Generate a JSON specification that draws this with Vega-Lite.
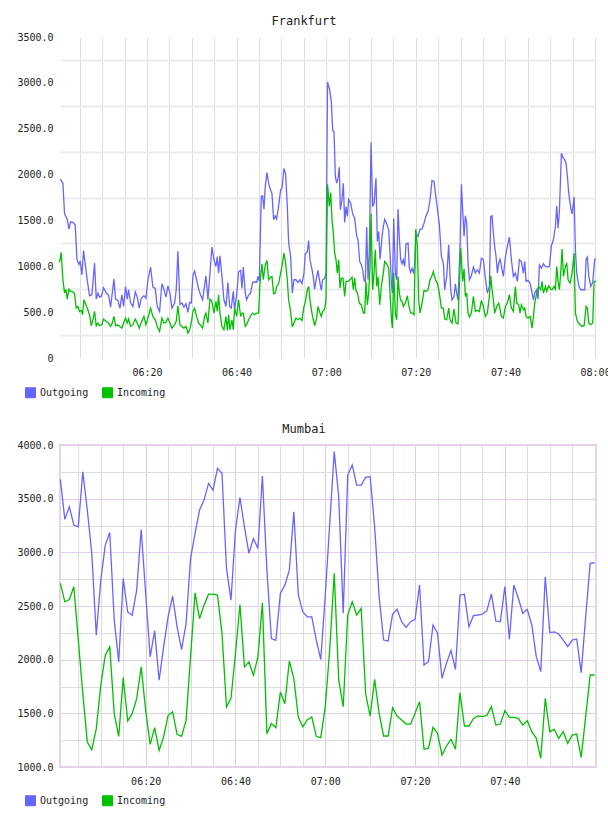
{
  "$schema": "https://vega.github.io/schema/vega-lite/v6.json",
  "background": "white",
  "padding": {"left": 15, "top": 15, "right": 0, "bottom": 0},
  "spacing": 22,
  "resolve": {"scale": {"x": "independent", "y": "independent", "color": "independent"}, "legend": {"color": "independent"}, "axis": {"x": "independent", "y": "independent"}},
  "datasets": {
    "fo": [{"t":0.65,"v":1950},{"t":1.25,"v":1906},{"t":1.62,"v":1572},{"t":2.21,"v":1514},{"t":2.59,"v":1405},{"t":2.96,"v":1485},{"t":3.48,"v":1478},{"t":4.0,"v":1449},{"t":4.37,"v":1078},{"t":4.82,"v":1020},{"t":5.11,"v":1056},{"t":5.49,"v":907},{"t":5.86,"v":1172},{"t":6.23,"v":1027},{"t":6.68,"v":846},{"t":7.2,"v":679},{"t":7.72,"v":690},{"t":8.31,"v":1035},{"t":8.69,"v":642},{"t":9.06,"v":708},{"t":9.43,"v":664},{"t":9.8,"v":671},{"t":10.32,"v":766},{"t":10.92,"v":708},{"t":11.44,"v":686},{"t":11.89,"v":555},{"t":12.26,"v":708},{"t":12.63,"v":860},{"t":13.0,"v":642},{"t":13.52,"v":628},{"t":13.97,"v":541},{"t":14.41,"v":690},{"t":14.79,"v":562},{"t":15.23,"v":780},{"t":15.61,"v":642},{"t":15.9,"v":744},{"t":16.35,"v":599},{"t":16.87,"v":562},{"t":17.39,"v":722},{"t":17.84,"v":664},{"t":18.28,"v":544},{"t":18.73,"v":650},{"t":19.33,"v":679},{"t":19.77,"v":650},{"t":20.22,"v":853},{"t":20.81,"v":991},{"t":21.33,"v":773},{"t":21.85,"v":758},{"t":22.3,"v":562},{"t":22.82,"v":508},{"t":23.34,"v":809},{"t":23.79,"v":751},{"t":24.24,"v":664},{"t":24.68,"v":787},{"t":25.13,"v":708},{"t":25.57,"v":544},{"t":26.17,"v":599},{"t":26.54,"v":744},{"t":26.91,"v":1165},{"t":27.36,"v":584},{"t":27.81,"v":599},{"t":28.25,"v":555},{"t":28.7,"v":591},{"t":29.15,"v":497},{"t":29.52,"v":606},{"t":29.89,"v":599},{"t":30.26,"v":896},{"t":30.63,"v":947},{"t":31.08,"v":853},{"t":31.53,"v":751},{"t":31.97,"v":686},{"t":32.42,"v":635},{"t":32.87,"v":795},{"t":33.16,"v":896},{"t":33.61,"v":635},{"t":34.06,"v":926},{"t":34.5,"v":1209},{"t":34.95,"v":1071},{"t":35.4,"v":998},{"t":35.69,"v":1107},{"t":35.99,"v":926},{"t":36.29,"v":1115},{"t":36.73,"v":896},{"t":37.18,"v":635},{"t":37.63,"v":562},{"t":38.07,"v":824},{"t":38.45,"v":562},{"t":38.82,"v":544},{"t":39.26,"v":726},{"t":39.56,"v":526},{"t":40.01,"v":686},{"t":40.45,"v":940},{"t":40.9,"v":955},{"t":41.2,"v":758},{"t":41.5,"v":991},{"t":41.94,"v":708},{"t":42.24,"v":635},{"t":42.69,"v":686},{"t":43.13,"v":708},{"t":43.58,"v":824},{"t":44.03,"v":831},{"t":44.47,"v":824},{"t":44.77,"v":889},{"t":45.07,"v":835},{"t":45.51,"v":1761},{"t":45.81,"v":1768},{"t":46.11,"v":1623},{"t":46.41,"v":1877},{"t":46.78,"v":2022},{"t":47.15,"v":1906},{"t":47.6,"v":1826},{"t":47.89,"v":1797},{"t":48.27,"v":1507},{"t":48.64,"v":1550},{"t":48.94,"v":1514},{"t":49.38,"v":1659},{"t":49.83,"v":1834},{"t":50.13,"v":1848},{"t":50.57,"v":2066},{"t":50.95,"v":2001},{"t":51.32,"v":1652},{"t":51.61,"v":1260},{"t":52.06,"v":1107},{"t":52.43,"v":708},{"t":52.8,"v":853},{"t":53.25,"v":853},{"t":53.7,"v":824},{"t":54.14,"v":853},{"t":54.59,"v":809},{"t":55.04,"v":926},{"t":55.33,"v":1136},{"t":55.78,"v":1158},{"t":56.08,"v":1281},{"t":56.38,"v":1071},{"t":56.82,"v":969},{"t":57.12,"v":882},{"t":57.42,"v":751},{"t":57.86,"v":882},{"t":58.16,"v":955},{"t":58.61,"v":817},{"t":58.91,"v":737},{"t":59.2,"v":853},{"t":59.65,"v":867},{"t":59.95,"v":926},{"t":60.3,"v":3010},{"t":60.77,"v":2923},{"t":61.14,"v":2796},{"t":61.44,"v":2480},{"t":61.74,"v":2469},{"t":62.04,"v":1979},{"t":62.33,"v":1906},{"t":62.63,"v":1961},{"t":62.93,"v":2081},{"t":63.15,"v":1616},{"t":63.52,"v":1725},{"t":63.82,"v":1906},{"t":64.12,"v":1478},{"t":64.42,"v":1652},{"t":64.72,"v":1543},{"t":65.01,"v":1732},{"t":65.46,"v":1688},{"t":65.91,"v":1572},{"t":66.35,"v":1525},{"t":66.8,"v":1332},{"t":67.1,"v":1289},{"t":67.47,"v":1053},{"t":67.84,"v":1016},{"t":68.14,"v":962},{"t":68.44,"v":846},{"t":68.73,"v":835},{"t":69.03,"v":1427},{"t":69.33,"v":853},{"t":69.63,"v":1180},{"t":70.0,"v":2349},{"t":70.37,"v":1652},{"t":70.67,"v":1681},{"t":71.11,"v":1961},{"t":71.41,"v":1271},{"t":71.71,"v":1380},{"t":72.01,"v":1078},{"t":72.45,"v":1318},{"t":72.75,"v":1434},{"t":73.05,"v":1514},{"t":73.49,"v":1463},{"t":73.94,"v":1398},{"t":74.24,"v":1143},{"t":74.54,"v":809},{"t":74.76,"v":708},{"t":75.06,"v":1521},{"t":75.43,"v":926},{"t":75.73,"v":853},{"t":76.02,"v":1623},{"t":76.32,"v":1307},{"t":76.62,"v":1071},{"t":76.92,"v":1027},{"t":77.21,"v":1071},{"t":77.51,"v":998},{"t":77.81,"v":1245},{"t":78.26,"v":1252},{"t":78.55,"v":980},{"t":78.85,"v":933},{"t":79.15,"v":980},{"t":79.45,"v":933},{"t":79.74,"v":998},{"t":80.04,"v":1361},{"t":80.49,"v":1325},{"t":80.93,"v":1405},{"t":81.38,"v":1405},{"t":81.83,"v":1470},{"t":82.27,"v":1550},{"t":82.72,"v":1597},{"t":83.17,"v":1725},{"t":83.61,"v":1935},{"t":84.06,"v":1924},{"t":84.36,"v":1797},{"t":84.8,"v":1634},{"t":85.25,"v":1452},{"t":85.7,"v":1107},{"t":86.14,"v":1035},{"t":86.44,"v":744},{"t":86.89,"v":889},{"t":87.33,"v":1234},{"t":87.78,"v":744},{"t":88.08,"v":635},{"t":88.52,"v":671},{"t":88.82,"v":809},{"t":89.12,"v":708},{"t":89.42,"v":628},{"t":89.86,"v":1216},{"t":90.16,"v":1895},{"t":90.46,"v":1608},{"t":90.76,"v":1325},{"t":91.05,"v":1550},{"t":91.35,"v":1470},{"t":91.65,"v":1035},{"t":91.95,"v":853},{"t":92.39,"v":896},{"t":92.84,"v":991},{"t":93.28,"v":926},{"t":93.73,"v":962},{"t":94.18,"v":926},{"t":94.62,"v":1089},{"t":95.07,"v":1071},{"t":95.52,"v":871},{"t":95.96,"v":708},{"t":96.41,"v":780},{"t":96.71,"v":1543},{"t":97.0,"v":1550},{"t":97.3,"v":1361},{"t":97.6,"v":1209},{"t":97.9,"v":1107},{"t":98.2,"v":926},{"t":98.49,"v":1035},{"t":98.79,"v":1078},{"t":99.09,"v":1005},{"t":99.53,"v":889},{"t":99.98,"v":1100},{"t":100.43,"v":1216},{"t":100.87,"v":1318},{"t":101.32,"v":1071},{"t":101.77,"v":889},{"t":102.21,"v":926},{"t":102.66,"v":835},{"t":103.11,"v":1071},{"t":103.55,"v":1049},{"t":104.0,"v":926},{"t":104.3,"v":1053},{"t":104.59,"v":835},{"t":105.04,"v":846},{"t":105.49,"v":817},{"t":105.93,"v":708},{"t":106.23,"v":635},{"t":106.53,"v":708},{"t":106.97,"v":744},{"t":107.27,"v":642},{"t":107.57,"v":1016},{"t":108.02,"v":980},{"t":108.46,"v":1027},{"t":108.91,"v":998},{"t":109.36,"v":991},{"t":109.8,"v":998},{"t":110.25,"v":1223},{"t":110.69,"v":1289},{"t":111.14,"v":1434},{"t":111.44,"v":1659},{"t":111.74,"v":1416},{"t":112.03,"v":1597},{"t":112.48,"v":2233},{"t":112.78,"v":2190},{"t":113.22,"v":2160},{"t":113.52,"v":2124},{"t":113.82,"v":1979},{"t":114.12,"v":1797},{"t":114.56,"v":1634},{"t":114.86,"v":1572},{"t":115.31,"v":1754},{"t":115.6,"v":1180},{"t":115.9,"v":926},{"t":116.35,"v":787},{"t":116.8,"v":744},{"t":117.24,"v":744},{"t":117.69,"v":744},{"t":117.99,"v":1078},{"t":118.28,"v":1100},{"t":118.58,"v":896},{"t":119.03,"v":780},{"t":119.47,"v":824},{"t":119.92,"v":1078},{"t":120.22,"v":1078}],
    "fi": [{"t":0.5,"v":1042},{"t":0.87,"v":1151},{"t":1.25,"v":853},{"t":1.62,"v":708},{"t":1.92,"v":751},{"t":2.21,"v":642},{"t":2.59,"v":751},{"t":2.96,"v":726},{"t":3.48,"v":722},{"t":3.85,"v":700},{"t":4.22,"v":544},{"t":4.59,"v":562},{"t":4.97,"v":508},{"t":5.34,"v":519},{"t":5.64,"v":472},{"t":5.93,"v":635},{"t":6.38,"v":580},{"t":6.83,"v":526},{"t":7.27,"v":453},{"t":7.57,"v":352},{"t":8.02,"v":432},{"t":8.31,"v":508},{"t":8.69,"v":352},{"t":9.06,"v":381},{"t":9.5,"v":352},{"t":9.95,"v":363},{"t":10.32,"v":424},{"t":10.92,"v":399},{"t":11.44,"v":381},{"t":11.89,"v":344},{"t":12.26,"v":381},{"t":12.63,"v":453},{"t":13.0,"v":352},{"t":13.52,"v":359},{"t":13.97,"v":344},{"t":14.41,"v":326},{"t":14.79,"v":381},{"t":15.23,"v":435},{"t":15.61,"v":381},{"t":15.9,"v":424},{"t":16.35,"v":344},{"t":16.87,"v":363},{"t":17.39,"v":424},{"t":17.84,"v":381},{"t":18.28,"v":326},{"t":18.73,"v":388},{"t":19.33,"v":453},{"t":19.77,"v":363},{"t":20.22,"v":435},{"t":20.81,"v":544},{"t":21.33,"v":453},{"t":21.85,"v":417},{"t":22.3,"v":344},{"t":22.82,"v":290},{"t":23.34,"v":435},{"t":23.79,"v":381},{"t":24.24,"v":388},{"t":24.68,"v":435},{"t":25.13,"v":381},{"t":25.57,"v":326},{"t":26.17,"v":363},{"t":26.54,"v":399},{"t":26.91,"v":570},{"t":27.36,"v":363},{"t":27.81,"v":344},{"t":28.25,"v":326},{"t":28.7,"v":344},{"t":29.15,"v":272},{"t":29.52,"v":308},{"t":29.89,"v":381},{"t":30.26,"v":508},{"t":30.63,"v":544},{"t":31.08,"v":453},{"t":31.53,"v":381},{"t":31.97,"v":359},{"t":32.42,"v":326},{"t":32.87,"v":453},{"t":33.16,"v":490},{"t":33.61,"v":381},{"t":34.06,"v":642},{"t":34.5,"v":617},{"t":34.95,"v":490},{"t":35.4,"v":617},{"t":35.69,"v":508},{"t":35.99,"v":690},{"t":36.29,"v":490},{"t":36.73,"v":344},{"t":37.18,"v":308},{"t":37.63,"v":453},{"t":37.93,"v":301},{"t":38.22,"v":472},{"t":38.52,"v":308},{"t":38.97,"v":417},{"t":39.26,"v":308},{"t":39.56,"v":544},{"t":40.01,"v":453},{"t":40.45,"v":635},{"t":40.9,"v":453},{"t":41.2,"v":490},{"t":41.5,"v":490},{"t":41.94,"v":344},{"t":42.24,"v":363},{"t":42.69,"v":417},{"t":43.13,"v":461},{"t":43.58,"v":490},{"t":44.03,"v":472},{"t":44.47,"v":490},{"t":44.92,"v":490},{"t":45.22,"v":817},{"t":45.66,"v":1027},{"t":45.96,"v":853},{"t":46.41,"v":1016},{"t":46.78,"v":1064},{"t":47.15,"v":853},{"t":47.6,"v":882},{"t":47.89,"v":889},{"t":48.27,"v":700},{"t":48.64,"v":708},{"t":48.94,"v":780},{"t":49.38,"v":809},{"t":49.83,"v":926},{"t":50.13,"v":998},{"t":50.57,"v":1143},{"t":50.95,"v":1035},{"t":51.32,"v":853},{"t":51.61,"v":635},{"t":52.06,"v":508},{"t":52.43,"v":337},{"t":52.8,"v":381},{"t":53.25,"v":435},{"t":53.7,"v":417},{"t":54.14,"v":435},{"t":54.59,"v":410},{"t":55.04,"v":562},{"t":55.33,"v":606},{"t":55.78,"v":744},{"t":56.08,"v":780},{"t":56.38,"v":635},{"t":56.82,"v":490},{"t":57.12,"v":417},{"t":57.42,"v":352},{"t":57.86,"v":435},{"t":58.16,"v":562},{"t":58.61,"v":490},{"t":58.91,"v":453},{"t":59.2,"v":508},{"t":59.65,"v":533},{"t":59.95,"v":635},{"t":60.3,"v":1895},{"t":60.7,"v":1652},{"t":61.0,"v":1804},{"t":61.29,"v":1507},{"t":61.59,"v":1361},{"t":61.89,"v":1143},{"t":62.19,"v":1071},{"t":62.48,"v":926},{"t":62.78,"v":1071},{"t":63.08,"v":762},{"t":63.38,"v":871},{"t":63.75,"v":871},{"t":64.12,"v":671},{"t":64.42,"v":835},{"t":64.86,"v":835},{"t":65.31,"v":853},{"t":65.76,"v":882},{"t":66.05,"v":744},{"t":66.35,"v":871},{"t":66.65,"v":726},{"t":66.95,"v":715},{"t":67.39,"v":599},{"t":67.84,"v":580},{"t":68.29,"v":490},{"t":68.58,"v":490},{"t":68.88,"v":835},{"t":69.18,"v":580},{"t":69.48,"v":708},{"t":69.77,"v":991},{"t":70.0,"v":1572},{"t":70.37,"v":744},{"t":70.67,"v":926},{"t":70.96,"v":1180},{"t":71.26,"v":780},{"t":71.56,"v":889},{"t":71.93,"v":580},{"t":72.3,"v":780},{"t":72.75,"v":926},{"t":73.05,"v":1053},{"t":73.49,"v":1027},{"t":73.94,"v":980},{"t":74.24,"v":708},{"t":74.54,"v":435},{"t":74.76,"v":326},{"t":75.06,"v":926},{"t":75.43,"v":490},{"t":75.73,"v":417},{"t":76.02,"v":889},{"t":76.32,"v":708},{"t":76.62,"v":628},{"t":76.92,"v":617},{"t":77.21,"v":562},{"t":77.66,"v":599},{"t":78.11,"v":679},{"t":78.4,"v":580},{"t":78.85,"v":490},{"t":79.3,"v":490},{"t":79.6,"v":472},{"t":79.97,"v":1405},{"t":80.34,"v":1216},{"t":80.64,"v":635},{"t":80.93,"v":490},{"t":81.38,"v":599},{"t":81.83,"v":737},{"t":82.27,"v":726},{"t":82.72,"v":744},{"t":83.17,"v":853},{"t":83.61,"v":896},{"t":83.91,"v":944},{"t":84.36,"v":853},{"t":84.8,"v":817},{"t":85.25,"v":708},{"t":85.7,"v":544},{"t":86.14,"v":544},{"t":86.44,"v":424},{"t":86.89,"v":417},{"t":87.33,"v":544},{"t":87.63,"v":417},{"t":88.08,"v":381},{"t":88.52,"v":533},{"t":88.97,"v":381},{"t":89.42,"v":373},{"t":89.71,"v":780},{"t":90.01,"v":1198},{"t":90.46,"v":835},{"t":90.76,"v":969},{"t":91.05,"v":671},{"t":91.35,"v":708},{"t":91.65,"v":490},{"t":91.95,"v":446},{"t":92.39,"v":490},{"t":92.84,"v":671},{"t":93.28,"v":508},{"t":93.73,"v":519},{"t":94.18,"v":508},{"t":94.62,"v":628},{"t":95.07,"v":562},{"t":95.52,"v":453},{"t":95.96,"v":490},{"t":96.41,"v":671},{"t":96.71,"v":896},{"t":97.0,"v":744},{"t":97.3,"v":635},{"t":97.6,"v":490},{"t":98.05,"v":562},{"t":98.49,"v":599},{"t":98.79,"v":533},{"t":99.09,"v":453},{"t":99.53,"v":435},{"t":99.98,"v":562},{"t":100.43,"v":599},{"t":100.87,"v":690},{"t":101.32,"v":544},{"t":101.77,"v":508},{"t":102.21,"v":780},{"t":102.51,"v":599},{"t":102.96,"v":580},{"t":103.25,"v":490},{"t":103.55,"v":580},{"t":104.0,"v":526},{"t":104.3,"v":544},{"t":104.59,"v":453},{"t":105.04,"v":435},{"t":105.49,"v":453},{"t":105.93,"v":326},{"t":106.23,"v":453},{"t":106.53,"v":599},{"t":106.97,"v":708},{"t":107.42,"v":780},{"t":107.87,"v":744},{"t":108.16,"v":835},{"t":108.46,"v":708},{"t":108.91,"v":780},{"t":109.21,"v":726},{"t":109.65,"v":787},{"t":110.1,"v":751},{"t":110.4,"v":744},{"t":110.84,"v":780},{"t":111.14,"v":751},{"t":111.44,"v":998},{"t":111.74,"v":835},{"t":112.03,"v":744},{"t":112.33,"v":926},{"t":112.63,"v":1187},{"t":112.93,"v":889},{"t":113.37,"v":998},{"t":113.67,"v":1035},{"t":113.97,"v":853},{"t":114.41,"v":817},{"t":114.86,"v":926},{"t":115.31,"v":1143},{"t":115.6,"v":490},{"t":116.05,"v":399},{"t":116.65,"v":363},{"t":117.09,"v":344},{"t":117.54,"v":352},{"t":117.99,"v":562},{"t":118.28,"v":544},{"t":118.58,"v":381},{"t":119.03,"v":363},{"t":119.47,"v":381},{"t":119.77,"v":835},{"t":120.22,"v":835}],
    "mo": [{"t":1,"v":3680},{"t":2,"v":3307},{"t":3,"v":3425},{"t":4,"v":3254},{"t":5,"v":3238},{"t":6,"v":3751},{"t":7,"v":3394},{"t":8,"v":2990},{"t":9,"v":2228},{"t":10,"v":2741},{"t":11,"v":3067},{"t":12,"v":3185},{"t":13,"v":2368},{"t":14,"v":1979},{"t":15,"v":2756},{"t":16,"v":2445},{"t":17,"v":2414},{"t":18,"v":2648},{"t":19,"v":3213},{"t":20,"v":2617},{"t":21,"v":2026},{"t":22,"v":2268},{"t":23,"v":1808},{"t":24,"v":2119},{"t":25,"v":2399},{"t":26,"v":2592},{"t":27,"v":2306},{"t":28,"v":2094},{"t":29,"v":2337},{"t":30,"v":2943},{"t":31,"v":3176},{"t":32,"v":3394},{"t":33,"v":3487},{"t":34,"v":3642},{"t":35,"v":3580},{"t":36,"v":3782},{"t":37,"v":3736},{"t":38,"v":2850},{"t":39,"v":2554},{"t":40,"v":3207},{"t":41,"v":3512},{"t":42,"v":3238},{"t":43,"v":2990},{"t":44,"v":3129},{"t":45,"v":3036},{"t":46,"v":3711},{"t":47,"v":2834},{"t":48,"v":2197},{"t":49,"v":2181},{"t":50,"v":2617},{"t":51,"v":2694},{"t":52,"v":2834},{"t":53,"v":3378},{"t":54,"v":2601},{"t":55,"v":2445},{"t":56,"v":2399},{"t":57,"v":2399},{"t":58,"v":2181},{"t":59,"v":2001},{"t":60,"v":2600},{"t":61,"v":3270},{"t":62,"v":3938},{"t":63,"v":3518},{"t":64,"v":2432},{"t":65,"v":3720},{"t":66,"v":3814},{"t":67,"v":3627},{"t":68,"v":3627},{"t":69,"v":3699},{"t":70,"v":3705},{"t":71,"v":3239},{"t":72,"v":2587},{"t":73,"v":2183},{"t":74,"v":2174},{"t":75,"v":2425},{"t":76,"v":2469},{"t":77,"v":2354},{"t":78,"v":2301},{"t":79,"v":2354},{"t":80,"v":2376},{"t":81,"v":2696},{"t":82,"v":1950},{"t":83,"v":1981},{"t":84,"v":2323},{"t":85,"v":2246},{"t":86,"v":1826},{"t":87,"v":1966},{"t":88,"v":2084},{"t":89,"v":1910},{"t":90,"v":2603},{"t":91,"v":2609},{"t":92,"v":2307},{"t":93,"v":2410},{"t":94,"v":2416},{"t":95,"v":2425},{"t":96,"v":2456},{"t":97,"v":2612},{"t":98,"v":2360},{"t":99,"v":2354},{"t":100,"v":2680},{"t":101,"v":2190},{"t":102,"v":2696},{"t":103,"v":2572},{"t":104,"v":2432},{"t":105,"v":2469},{"t":106,"v":2323},{"t":107,"v":2028},{"t":108,"v":1888},{"t":109,"v":2773},{"t":110,"v":2252},{"t":111,"v":2258},{"t":112,"v":2239},{"t":113,"v":2183},{"t":114,"v":2121},{"t":115,"v":2183},{"t":116,"v":2193},{"t":117,"v":1879},{"t":118,"v":2400},{"t":119,"v":2897},{"t":120,"v":2903}],
    "mi": [{"t":1,"v":2710},{"t":2,"v":2539},{"t":3,"v":2561},{"t":4,"v":2679},{"t":5,"v":2181},{"t":6,"v":1684},{"t":7,"v":1233},{"t":8,"v":1161},{"t":9,"v":1357},{"t":10,"v":1761},{"t":11,"v":2041},{"t":12,"v":2119},{"t":13,"v":1497},{"t":14,"v":1285},{"t":15,"v":1833},{"t":16,"v":1429},{"t":17,"v":1497},{"t":18,"v":1637},{"t":19,"v":1933},{"t":20,"v":1528},{"t":21,"v":1211},{"t":22,"v":1367},{"t":23,"v":1155},{"t":24,"v":1280},{"t":25,"v":1482},{"t":26,"v":1513},{"t":27,"v":1305},{"t":28,"v":1286},{"t":29,"v":1435},{"t":30,"v":2026},{"t":31,"v":2623},{"t":32,"v":2383},{"t":33,"v":2508},{"t":34,"v":2610},{"t":35,"v":2610},{"t":36,"v":2601},{"t":37,"v":2243},{"t":38,"v":1560},{"t":39,"v":1637},{"t":40,"v":2057},{"t":41,"v":2514},{"t":42,"v":1933},{"t":43,"v":1979},{"t":44,"v":1855},{"t":45,"v":2026},{"t":46,"v":2529},{"t":47,"v":1311},{"t":48,"v":1404},{"t":49,"v":1367},{"t":50,"v":1699},{"t":51,"v":1590},{"t":52,"v":1988},{"t":53,"v":1824},{"t":54,"v":1466},{"t":55,"v":1373},{"t":56,"v":1441},{"t":57,"v":1466},{"t":58,"v":1286},{"t":59,"v":1274},{"t":60,"v":1560},{"t":61,"v":2100},{"t":62,"v":2805},{"t":63,"v":1811},{"t":64,"v":1562},{"t":65,"v":2416},{"t":66,"v":2540},{"t":67,"v":2416},{"t":68,"v":2478},{"t":69,"v":1680},{"t":70,"v":1475},{"t":71,"v":1817},{"t":72,"v":1500},{"t":73,"v":1289},{"t":74,"v":1289},{"t":75,"v":1553},{"t":76,"v":1475},{"t":77,"v":1438},{"t":78,"v":1400},{"t":79,"v":1400},{"t":80,"v":1500},{"t":81,"v":1609},{"t":82,"v":1165},{"t":83,"v":1175},{"t":84,"v":1370},{"t":85,"v":1314},{"t":86,"v":1112},{"t":87,"v":1196},{"t":88,"v":1258},{"t":89,"v":1165},{"t":90,"v":1692},{"t":91,"v":1382},{"t":92,"v":1382},{"t":93,"v":1453},{"t":94,"v":1475},{"t":95,"v":1469},{"t":96,"v":1481},{"t":97,"v":1562},{"t":98,"v":1391},{"t":99,"v":1400},{"t":100,"v":1525},{"t":101,"v":1463},{"t":102,"v":1463},{"t":103,"v":1453},{"t":104,"v":1391},{"t":105,"v":1432},{"t":106,"v":1329},{"t":107,"v":1267},{"t":108,"v":1081},{"t":109,"v":1640},{"t":110,"v":1329},{"t":111,"v":1351},{"t":112,"v":1267},{"t":113,"v":1329},{"t":114,"v":1220},{"t":115,"v":1298},{"t":116,"v":1307},{"t":117,"v":1090},{"t":118,"v":1469},{"t":119,"v":1857},{"t":120,"v":1857}]
  },
  "vconcat": [
    {
      "title": {"text": "Frankfurt", "dx": -24},
      "width": 536,
      "height": 321,
      "view": {"stroke": null},
      "layer": [
        {
          "data": {"name": "fo"},
          "mark": {"type": "line", "strokeWidth": 1.3},
          "encoding": {
            "x": {"field": "t", "type": "quantitative", "scale": {"domain": [0.6, 120.2], "nice": false, "zero": false},
              "axis": {"values": [5,10,15,20,25,30,35,40,45,50,55,60,65,70,75,80,85,90,95,100,105,110,115,120], "tickCount": 200,
                "labelExpr": "datum.value % 20 == 0 ? timeFormat(datetime(2000,0,1,6,datum.value),'%H:%M') : ''",
                "gridColor": "#dddddd", "gridWidth": 1, "labelPadding": 9}},
            "y": {"field": "v", "type": "quantitative", "scale": {"domain": [0, 3500], "nice": false, "zero": false},
              "axis": {"values": [0,250,500,750,1000,1250,1500,1750,2000,2250,2500,2750,3000,3250,3500], "tickCount": 200,
                "labelExpr": "datum.value % 500 != 0 ? '' : (datum.value == 0 ? '0' : format(datum.value, '.1f'))",
                "gridColor": "#ececec",
                "gridOpacity": {"condition": {"test": "datum.value % 500 == 0", "value": 0}, "value": 1},
                "gridWidth": 2, "labelPadding": 7}},
            "color": {"datum": "Outgoing", "type": "nominal",
              "scale": {"domain": ["Outgoing", "Incoming"], "range": ["#6666ff", "#00c000"]},
              "legend": {"orient": "none", "legendX": -35, "legendY": 350, "direction": "horizontal", "title": null,
                "encode": {"symbols": {"update": {"fill": {"signal": "datum.value == 'Outgoing' ? '#6666ff' : '#00c000'"}, "fillOpacity": {"value": 1}, "stroke": {"value": "#aaaaaa"}, "strokeWidth": {"value": 1}}}}}}
          }
        },
        {
          "data": {"name": "fi"},
          "mark": {"type": "line", "strokeWidth": 1.3},
          "encoding": {
            "x": {"field": "t", "type": "quantitative"},
            "y": {"field": "v", "type": "quantitative"},
            "color": {"datum": "Incoming", "type": "nominal"}
          }
        }
      ]
    },
    {
      "title": {"text": "Mumbai", "dx": -24},
      "width": 536,
      "height": 322,
      "view": {"stroke": "#e6d4ea", "strokeWidth": 2},
      "layer": [
        {
          "data": {"name": "mo"},
          "mark": {"type": "line", "strokeWidth": 1.3},
          "encoding": {
            "x": {"field": "t", "type": "quantitative", "scale": {"domain": [0.92, 120.3], "nice": false, "zero": false},
              "axis": {"values": [5,10,15,20,25,30,35,40,45,50,55,60,65,70,75,80,85,90,95,100,105,110,115], "tickCount": 200,
                "labelExpr": "datum.value % 20 == 0 ? timeFormat(datetime(2000,0,1,6,datum.value),'%H:%M') : ''",
                "gridColor": {"condition": {"test": "datum.value % 20 == 0", "value": "#e2cbe6"}, "value": "#dddddd"},
                "labelPadding": 9}},
            "y": {"field": "v", "type": "quantitative", "scale": {"domain": [1000, 4000], "nice": false, "zero": false},
              "axis": {"values": [1000,1250,1500,1750,2000,2250,2500,2750,3000,3250,3500,3750,4000], "tickCount": 200,
                "labelExpr": "datum.value % 500 != 0 ? '' : format(datum.value, '.1f')",
                "gridColor": {"condition": {"test": "datum.value % 500 == 0", "value": "#e6cfea"}, "value": "#dddddd"},
                "labelPadding": 7}},
            "color": {"datum": "Outgoing", "type": "nominal",
              "scale": {"domain": ["Outgoing", "Incoming"], "range": ["#6666ff", "#00c000"]},
              "legend": {"orient": "none", "legendX": -35, "legendY": 350, "direction": "horizontal", "title": null,
                "encode": {"symbols": {"update": {"fill": {"signal": "datum.value == 'Outgoing' ? '#6666ff' : '#00c000'"}, "fillOpacity": {"value": 1}, "stroke": {"value": "#aaaaaa"}, "strokeWidth": {"value": 1}}}}}}
          }
        },
        {
          "data": {"name": "mi"},
          "mark": {"type": "line", "strokeWidth": 1.3},
          "encoding": {
            "x": {"field": "t", "type": "quantitative"},
            "y": {"field": "v", "type": "quantitative"},
            "color": {"datum": "Incoming", "type": "nominal"}
          }
        }
      ]
    }
  ],
  "config": {
    "font": "DejaVu Sans Mono",
    "axis": {"labelFont": "DejaVu Sans Mono", "labelFontSize": 10, "labelColor": "#222", "ticks": false, "domain": false, "title": null, "labelFlush": false, "labelOverlap": false},
    "legend": {"labelFont": "DejaVu Sans Mono", "labelFontSize": 10, "labelColor": "#222", "symbolType": "square", "symbolSize": 100, "symbolStrokeColor": "#aaa", "symbolStrokeWidth": 1, "symbolOpacity": 1, "labelOffset": 4, "columnPadding": 11, "padding": 0},
    "title": {"font": "DejaVu Sans Mono", "fontSize": 12, "fontWeight": "normal", "color": "#222", "offset": 4, "anchor": "middle"}
  }
}
